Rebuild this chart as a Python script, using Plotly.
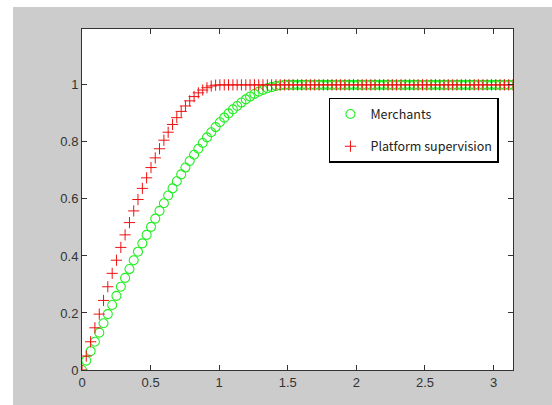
import plotly.graph_objects as go

# x sampling (0 .. pi, step pi/100)
x_vals = [
    0.000, 0.031, 0.063, 0.094, 0.126, 0.157, 0.188, 0.220, 0.251, 0.283,
    0.314, 0.346, 0.377, 0.408, 0.440, 0.471, 0.503, 0.534, 0.565, 0.597,
    0.628, 0.660, 0.691, 0.723, 0.754, 0.785, 0.817, 0.848, 0.880, 0.911,
    0.942, 0.974, 1.005, 1.037, 1.068, 1.100, 1.131, 1.162, 1.194, 1.225,
    1.257, 1.288, 1.319, 1.351, 1.382, 1.414, 1.445, 1.477, 1.508, 1.539,
    1.571, 1.602, 1.634, 1.665, 1.696, 1.728, 1.759, 1.791, 1.822, 1.854,
    1.885, 1.916, 1.948, 1.979, 2.011, 2.042, 2.073, 2.105, 2.136, 2.168,
    2.199, 2.231, 2.262, 2.293, 2.325, 2.356, 2.388, 2.419, 2.450, 2.482,
    2.513, 2.545, 2.576, 2.608, 2.639, 2.670, 2.702, 2.733, 2.765, 2.796,
    2.827, 2.859, 2.890, 2.922, 2.953, 2.985, 3.016, 3.047, 3.079, 3.110,
    3.142,
]

merchants = [
    0.000, 0.033, 0.066, 0.099, 0.131, 0.164, 0.196, 0.228, 0.260, 0.292,
    0.323, 0.354, 0.385, 0.415, 0.444, 0.474, 0.502, 0.531, 0.558, 0.585,
    0.612, 0.637, 0.662, 0.686, 0.710, 0.733, 0.755, 0.776, 0.796, 0.816,
    0.834, 0.852, 0.869, 0.885, 0.900, 0.914, 0.926, 0.938, 0.949, 0.959,
    0.968, 0.976, 0.982, 0.988, 0.992, 0.996, 0.998, 1.000, 1.000, 1.000,
    1.000, 1.000, 1.000, 1.000, 1.000, 1.000, 1.000, 1.000, 1.000, 1.000,
    1.000, 1.000, 1.000, 1.000, 1.000, 1.000, 1.000, 1.000, 1.000, 1.000,
    1.000, 1.000, 1.000, 1.000, 1.000, 1.000, 1.000, 1.000, 1.000, 1.000,
    1.000, 1.000, 1.000, 1.000, 1.000, 1.000, 1.000, 1.000, 1.000, 1.000,
    1.000, 1.000, 1.000, 1.000, 1.000, 1.000, 1.000, 1.000, 1.000, 1.000,
    1.000,
]

platform = [
    0.000, 0.049, 0.099, 0.148, 0.196, 0.244, 0.292, 0.339, 0.385, 0.430,
    0.474, 0.517, 0.558, 0.598, 0.637, 0.674, 0.710, 0.744, 0.776, 0.806,
    0.834, 0.861, 0.885, 0.907, 0.926, 0.944, 0.959, 0.972, 0.982, 0.990,
    0.996, 0.999, 1.000, 1.000, 1.000, 1.000, 1.000, 1.000, 1.000, 1.000,
    1.000, 1.000, 1.000, 1.000, 1.000, 1.000, 1.000, 1.000, 1.000, 1.000,
    1.000, 1.000, 1.000, 1.000, 1.000, 1.000, 1.000, 1.000, 1.000, 1.000,
    1.000, 1.000, 1.000, 1.000, 1.000, 1.000, 1.000, 1.000, 1.000, 1.000,
    1.000, 1.000, 1.000, 1.000, 1.000, 1.000, 1.000, 1.000, 1.000, 1.000,
    1.000, 1.000, 1.000, 1.000, 1.000, 1.000, 1.000, 1.000, 1.000, 1.000,
    1.000, 1.000, 1.000, 1.000, 1.000, 1.000, 1.000, 1.000, 1.000, 1.000,
    1.000,
]

series_names = ["Merchants", "Platform supervision"]
x_ticks = [0, 0.5, 1, 1.5, 2, 2.5, 3]
x_tick_text = ["0", "0.5", "1", "1.5", "2", "2.5", "3"]
y_ticks = [0, 0.2, 0.4, 0.6, 0.8, 1]
y_tick_text = ["0", "0.2", "0.4", "0.6", "0.8", "1"]

fig = go.Figure()
fig.add_trace(go.Scatter(
    x=x_vals, y=merchants, mode="markers", name=series_names[0],
    legendgroup="g1",
    marker=dict(symbol="circle-open", size=9, color="#22ee22",
                line=dict(width=1.1, color="#22ee22")),
))
fig.add_trace(go.Scatter(
    x=x_vals, y=platform, mode="markers", name=series_names[1],
    legendgroup="g2",
    marker=dict(symbol="cross-thin-open", size=8, color="#ee1111",
                line=dict(width=1.0, color="#ee1111")),
))

axis_common = dict(
    showline=True, linecolor="#333333", linewidth=1, mirror="ticks",
    ticks="inside", ticklen=5, tickcolor="#333333", tickwidth=1,
    showgrid=False, zeroline=False,
    tickfont=dict(family="Liberation Sans, Arial, sans-serif", size=13, color="#333333"),
)

fig.update_xaxes(range=[0, 3.1416], tickvals=x_ticks, ticktext=x_tick_text, **axis_common)
fig.update_yaxes(range=[0, 1.196], tickvals=y_ticks, ticktext=y_tick_text, **axis_common)

fig.update_layout(
    width=552, height=405,
    margin=dict(l=82, r=39, t=29, b=35),
    paper_bgcolor="#cccccc",
    plot_bgcolor="#ffffff",
    showlegend=True,
    legend=dict(
        x=0.573, y=0.798, xanchor="left", yanchor="top",
        bgcolor="#ffffff", bordercolor="#000000", borderwidth=1.5,
        font=dict(family="Noto Sans CJK SC, Noto Sans, sans-serif", size=12.5, color="#222222"),
        tracegroupgap=13, itemwidth=30,
    ),
    shapes=[
        dict(type="rect", xref="paper", yref="paper", x0=-0.25, x1=-0.160,
             y0=-0.2, y1=1.2, fillcolor="#ffffff", line=dict(width=0), layer="below"),
        dict(type="rect", xref="paper", yref="paper", x0=-0.25, x1=1.2,
             y0=1.0645, y1=1.2, fillcolor="#ffffff", line=dict(width=0), layer="below"),
    ],
)

fig.write_html(
    "out.html",
    config={"displayModeBar": False},
    post_script="document.body.style.margin='0';document.body.style.overflow='hidden';",
)
